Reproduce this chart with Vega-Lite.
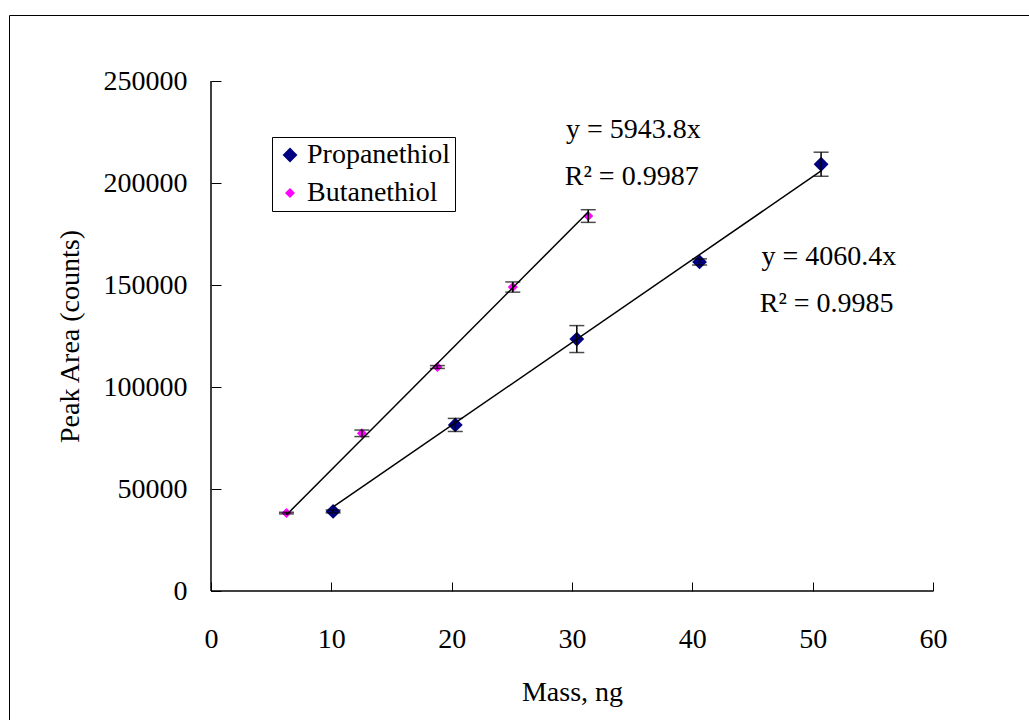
{
  "$schema": "https://vega.github.io/schema/vega-lite/v6.json",
  "width": 1021,
  "height": 706,
  "autosize": {"type": "none"},
  "padding": {"left": 9, "top": 15, "right": 0, "bottom": 0},
  "background": "white",
  "config": {
    "view": {"stroke": "black", "strokeWidth": 1},
    "font": "Liberation Serif"
  },
  "datasets": {
    "points": [
      {"series": "Propanethiol", "mass": 10.15, "area": 39000, "err": 700},
      {"series": "Propanethiol", "mass": 20.3, "area": 81400, "err": 3200},
      {"series": "Propanethiol", "mass": 30.4, "area": 123500, "err": 6600},
      {"series": "Propanethiol", "mass": 40.6, "area": 161300, "err": 1500},
      {"series": "Propanethiol", "mass": 50.7, "area": 209200, "err": 5900},
      {"series": "Butanethiol", "mass": 6.27, "area": 38200, "err": 400},
      {"series": "Butanethiol", "mass": 12.54, "area": 77300, "err": 1600},
      {"series": "Butanethiol", "mass": 18.81, "area": 109800, "err": 700},
      {"series": "Butanethiol", "mass": 25.08, "area": 149000, "err": 2500},
      {"series": "Butanethiol", "mass": 31.35, "area": 183800, "err": 3100}
    ],
    "trend": [
      {"series": "Propanethiol", "mass": 10.15, "area": 41200},
      {"series": "Propanethiol", "mass": 50.7, "area": 205900},
      {"series": "Butanethiol", "mass": 6.27, "area": 37300},
      {"series": "Butanethiol", "mass": 31.35, "area": 185800}
    ],
    "notes": [
      {"label": "y = 5943.8x", "mass": 29.5, "area": 222000},
      {"label": "R² = 0.9987", "mass": 29.4, "area": 199000},
      {"label": "y = 4060.4x", "mass": 45.75, "area": 159800},
      {"label": "R² = 0.9985", "mass": 45.6, "area": 136800}
    ],
    "axes": [{"x0": 0, "x1": 60, "y0": 0, "y1": 250000}]
  },
  "encoding": {
    "x": {
      "field": "mass", "type": "quantitative",
      "scale": {"domain": [-16.787, 68.061], "nice": false, "zero": false},
      "axis": {
        "values": [0, 10, 20, 30, 40, 50, 60],
        "domain": false, "grid": false, "offset": -130,
        "tickSize": -9, "tickColor": "black", "tickWidth": 1,
        "labelFont": "Liberation Serif", "labelFontSize": 28, "labelColor": "black",
        "labelBaseline": "alphabetic", "labelPadding": 65, "labelOverlap": false, "labelFlush": false,
        "title": "Mass, ng", "titleFont": "Liberation Serif", "titleFontSize": 28,
        "titleFontWeight": "normal", "titleColor": "black",
        "titleX": 563, "titleY": 109, "titleBaseline": "alphabetic", "titleAlign": "center", "titleAnchor": null
      }
    },
    "y": {
      "field": "area", "type": "quantitative",
      "scale": {"domain": [-63725, 282353], "nice": false, "zero": false},
      "axis": {
        "values": [0, 50000, 100000, 150000, 200000, 250000],
        "format": "d",
        "domain": false, "grid": false, "offset": -202,
        "tickSize": -10, "tickColor": "black", "tickWidth": 1,
        "labelFont": "Liberation Serif", "labelFontSize": 28, "labelColor": "black",
        "labelPadding": 34, "labelOverlap": false, "labelFlush": false,
        "title": "Peak Area (counts)", "titleFont": "Liberation Serif", "titleFontSize": 28,
        "titleFontWeight": "normal", "titleColor": "black",
        "titleX": -133, "titleY": 321, "titleAngle": -90, "titleBaseline": "alphabetic", "titleAlign": "center", "titleAnchor": null
      }
    }
  },
  "layer": [
    {
      "data": {"name": "axes"},
      "mark": {"type": "rule", "color": "black", "strokeWidth": 1.5},
      "encoding": {"x": {"field": "x0", "type": "quantitative"}, "y": {"field": "y0", "type": "quantitative"}, "y2": {"field": "y1"}}
    },
    {
      "data": {"name": "axes"},
      "mark": {"type": "rule", "color": "black", "strokeWidth": 1.5},
      "encoding": {"x": {"field": "x0", "type": "quantitative"}, "x2": {"field": "x1"}, "y": {"field": "y0", "type": "quantitative"}}
    },
    {
      "data": {"name": "points"},
      "mark": {"type": "point", "shape": "diamond", "filled": true, "opacity": 1},
      "encoding": {
        "color": {
          "field": "series", "type": "nominal",
          "scale": {"domain": ["Propanethiol", "Butanethiol"], "range": ["#000080", "#FF00FF"]},
          "legend": {
            "title": null, "orient": "none", "legendX": 263, "legendY": 122,
            "strokeColor": "black", "fillColor": "white", "padding": 4,
            "symbolType": "diamond", "symbolSize": 100, "symbolStrokeWidth": 0,
            "labelFont": "Liberation Serif", "labelFontSize": 28, "labelColor": "black",
            "labelOffset": 3, "rowPadding": 10
          }
        },
        "size": {
          "field": "series", "type": "nominal",
          "scale": {"domain": ["Propanethiol", "Butanethiol"], "range": [220, 100]},
          "legend": null
        }
      }
    },
    {
      "data": {"name": "points"},
      "mark": {"type": "errorbar", "color": "black", "thickness": 1.5, "ticks": {"size": 15, "thickness": 1.5}},
      "encoding": {
        "yError": {"field": "err"},
        "detail": {"field": "series"}
      }
    },
    {
      "data": {"name": "trend"},
      "mark": {"type": "line", "color": "black", "strokeWidth": 1.5},
      "encoding": {"detail": {"field": "series", "type": "nominal"}}
    },
    {
      "data": {"name": "notes"},
      "mark": {"type": "text", "align": "left", "baseline": "alphabetic", "font": "Liberation Serif", "fontSize": 28, "color": "black"},
      "encoding": {"text": {"field": "label"}}
    }
  ]
}
